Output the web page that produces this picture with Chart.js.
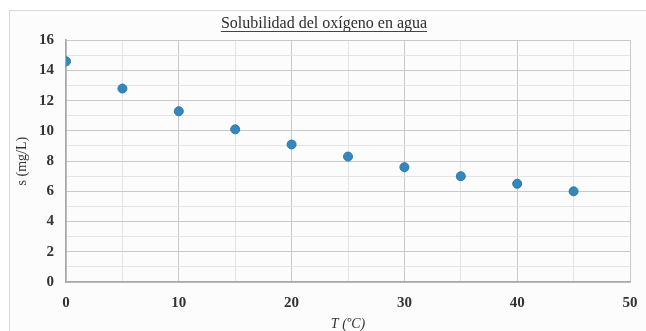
<!DOCTYPE html>
<html>
<head>
<meta charset="utf-8">
<script src="https://cdn.jsdelivr.net/npm/chart.js@4/dist/chart.umd.min.js"></script>
<style>
    html, body { margin: 0; padding: 0; background: #fff; }
    #wrap { position: relative; width: 646px; height: 331px; overflow: hidden; }
    #frame { position: absolute; left: 9px; top: 10px; width: 640px; height: 330px;
             border: 1px solid #d9d9d9; background: #fcfcfc; }
    #chart { position: absolute; left: 0; top: 0; }
</style>
</head>
<body>
<div id="wrap">
    <div id="frame"></div>
    <canvas id="chart" width="646" height="331"></canvas>
</div>
<script>
// Solubilidad del oxígeno en agua
const temperatures = [0, 5, 10, 15, 20, 25, 30, 35, 40, 45];
const solubility = [14.6, 12.8, 11.3, 10.1, 9.1, 8.3, 7.6, 7.0, 6.5, 6.0];
const xTicks = [0, 10, 20, 30, 40, 50];
const yTicks = [0, 2, 4, 6, 8, 10, 12, 14, 16];

const serif = "'Liberation Serif', 'DejaVu Serif', serif";
const majorGrid = '#c9c9c9';
const minorGrid = '#e4e4e4';

// underline under the chart title (Excel style)
const underlineTitle = {
    id: 'underlineTitle',
    afterDraw(chart) {
        const t = chart.titleBlock;
        if (!t || !t._padding) return;
        const ctx = chart.ctx;
        const font = t.options.font;
        ctx.save();
        ctx.font = font.size + 'px ' + font.family;
        const w = ctx.measureText(t.options.text).width;
        const cx = (t.left + t.right) / 2;
        const y = t.top + t._padding.top + font.size * 1.2 - 2.5;
        ctx.strokeStyle = '#444';
        ctx.lineWidth = 1;
        ctx.beginPath();
        ctx.moveTo(cx - w / 2, Math.round(y) + 0.5);
        ctx.lineTo(cx + w / 2, Math.round(y) + 0.5);
        ctx.stroke();
        ctx.restore();
    }
};

document.addEventListener('DOMContentLoaded', () => {
    new Chart(document.getElementById('chart'), {
        type: 'scatter',
        data: {
            datasets: [{
                label: 's (mg/L)',
                data: temperatures.map((t, i) => ({ x: t, y: solubility[i] })),
                backgroundColor: '#3487be',
                borderColor: '#2c79ac',
                borderWidth: 1,
                pointRadius: 4.5
            }]
        },
        options: {
            responsive: false,
            animation: false,
            layout: {
                padding: { left: 18, right: 16, top: 0, bottom: 0 }
            },
            plugins: {
                legend: { display: false },
                tooltip: { enabled: false },
                title: {
                    display: true,
                    text: 'Solubilidad del oxígeno en agua',
                    color: '#2e2e2e',
                    font: { family: serif, size: 16, weight: 'normal' },
                    padding: { top: 14, bottom: 7 }
                }
            },
            scales: {
                x: {
                    type: 'linear',
                    min: 0,
                    max: 50,
                    afterFit: (s) => {
                        s.height = 49;
                        s.paddingLeft = 0;
                        s.paddingRight = 0;
                    },
                    afterBuildTicks: (s) => {
                        s.ticks = [];
                        for (let v = 0; v <= 50; v += 5) s.ticks.push({ value: v });
                    },
                    ticks: {
                        autoSkip: false,
                        maxRotation: 0,
                        padding: 12,
                        color: '#333',
                        font: { family: serif, size: 15, weight: 'bold' },
                        callback: (v) => xTicks.includes(v) ? String(v) : ''
                    },
                    grid: {
                        drawTicks: false,
                        color: (c) => (c.tick && c.tick.value % 10 === 0) ? majorGrid : minorGrid,
                        lineWidth: 1
                    },
                    border: { color: '#a9a9a9', width: 1.5 },
                    title: {
                        display: true,
                        text: 'T (ºC)',
                        color: '#333',
                        font: { family: serif, size: 14, style: 'italic', lineHeight: 1 },
                        padding: { top: 0, bottom: 0 }
                    }
                },
                y: {
                    type: 'linear',
                    min: 0,
                    max: 16,
                    afterFit: (s) => { s.width = 48; },
                    afterBuildTicks: (s) => {
                        s.ticks = [];
                        for (let v = 0; v <= 16; v += 1) s.ticks.push({ value: v });
                    },
                    ticks: {
                        autoSkip: false,
                        padding: 12,
                        color: '#333',
                        font: { family: serif, size: 15, weight: 'bold' },
                        callback: (v) => yTicks.includes(v) ? String(v) : ''
                    },
                    grid: {
                        drawTicks: false,
                        color: (c) => (c.tick && c.tick.value % 2 === 0) ? majorGrid : minorGrid,
                        lineWidth: 1
                    },
                    border: { color: '#a9a9a9', width: 1.5 },
                    title: {
                        display: true,
                        text: 's (mg/L)',
                        color: '#333',
                        font: { family: serif, size: 14, lineHeight: 1 },
                        padding: { top: -3, bottom: 0 }
                    }
                }
            }
        },
        plugins: [underlineTitle]
    });
});
</script>
</body>
</html>
